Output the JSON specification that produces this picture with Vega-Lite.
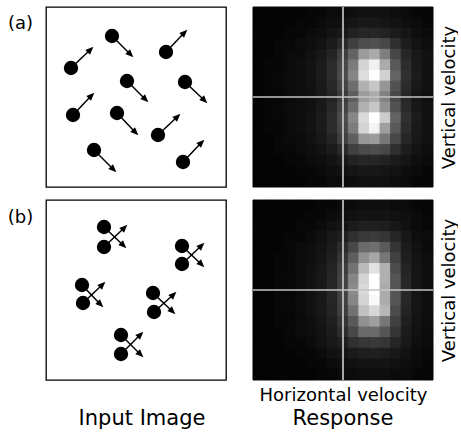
{
"$schema":"https://vega.github.io/schema/vega-lite/v6.json",
"padding":{"left":6,"top":6,"right":0,"bottom":0},
"background":"white",
"config":{"view":{"stroke":null},"font":"DejaVu Sans","axis":{"grid":false,"domain":false,"ticks":false,"labels":false,"titleFontWeight":"normal","titleColor":"black"},"title":{"color":"black","fontWeight":"normal"}},
"datasets":{
"dotsA":[
{"x":25,"y":61,"x2":44,"y2":43,"d":"ur"},
{"x":66,"y":29,"x2":84,"y2":47,"d":"dr"},
{"x":120,"y":45,"x2":138,"y2":26,"d":"ur"},
{"x":81,"y":74,"x2":99,"y2":92,"d":"dr"},
{"x":139,"y":75,"x2":158,"y2":93,"d":"dr"},
{"x":27,"y":108,"x2":45,"y2":89,"d":"ur"},
{"x":71,"y":106,"x2":89,"y2":125,"d":"dr"},
{"x":112,"y":128,"x2":131,"y2":110,"d":"ur"},
{"x":48,"y":143,"x2":67,"y2":162,"d":"dr"},
{"x":137,"y":155,"x2":155,"y2":136,"d":"ur"}
],
"dotsB":[
{"x":58,"y":27,"x2":77,"y2":45,"d":"dr"},
{"x":58,"y":47,"x2":78,"y2":28,"d":"ur"},
{"x":136,"y":46,"x2":155,"y2":64,"d":"dr"},
{"x":136,"y":64,"x2":155,"y2":46,"d":"ur"},
{"x":36,"y":85,"x2":54,"y2":104,"d":"dr"},
{"x":37,"y":103,"x2":56,"y2":85,"d":"ur"},
{"x":107,"y":93,"x2":126,"y2":111,"d":"dr"},
{"x":108,"y":112,"x2":127,"y2":95,"d":"ur"},
{"x":75,"y":135,"x2":94,"y2":154,"d":"dr"},
{"x":75,"y":154,"x2":94,"y2":135,"d":"ur"}
],
"A":[
{"r":0,"c":0,"v":0.01},{"r":0,"c":1,"v":0.01},{"r":0,"c":2,"v":0.01},{"r":0,"c":3,"v":0.01},{"r":0,"c":4,"v":0.01},{"r":0,"c":5,"v":0.02},{"r":0,"c":6,"v":0.02},{"r":0,"c":7,"v":0.03},{"r":0,"c":8,"v":0.03},{"r":0,"c":9,"v":0.04},{"r":0,"c":10,"v":0.05},{"r":0,"c":11,"v":0.05},{"r":0,"c":12,"v":0.05},{"r":0,"c":13,"v":0.04},{"r":0,"c":14,"v":0.03},{"r":0,"c":15,"v":0.02},{"r":0,"c":16,"v":0.02},
{"r":1,"c":0,"v":0.01},{"r":1,"c":1,"v":0.01},{"r":1,"c":2,"v":0.01},{"r":1,"c":3,"v":0.01},{"r":1,"c":4,"v":0.02},{"r":1,"c":5,"v":0.02},{"r":1,"c":6,"v":0.03},{"r":1,"c":7,"v":0.04},{"r":1,"c":8,"v":0.05},{"r":1,"c":9,"v":0.07},{"r":1,"c":10,"v":0.08},{"r":1,"c":11,"v":0.08},{"r":1,"c":12,"v":0.07},{"r":1,"c":13,"v":0.06},{"r":1,"c":14,"v":0.04},{"r":1,"c":15,"v":0.03},{"r":1,"c":16,"v":0.02},
{"r":2,"c":0,"v":0.01},{"r":2,"c":1,"v":0.01},{"r":2,"c":2,"v":0.01},{"r":2,"c":3,"v":0.02},{"r":2,"c":4,"v":0.02},{"r":2,"c":5,"v":0.03},{"r":2,"c":6,"v":0.04},{"r":2,"c":7,"v":0.06},{"r":2,"c":8,"v":0.09},{"r":2,"c":9,"v":0.13},{"r":2,"c":10,"v":0.15},{"r":2,"c":11,"v":0.15},{"r":2,"c":12,"v":0.13},{"r":2,"c":13,"v":0.1},{"r":2,"c":14,"v":0.07},{"r":2,"c":15,"v":0.04},{"r":2,"c":16,"v":0.03},
{"r":3,"c":0,"v":0.01},{"r":3,"c":1,"v":0.01},{"r":3,"c":2,"v":0.02},{"r":3,"c":3,"v":0.02},{"r":3,"c":4,"v":0.03},{"r":3,"c":5,"v":0.04},{"r":3,"c":6,"v":0.06},{"r":3,"c":7,"v":0.1},{"r":3,"c":8,"v":0.17},{"r":3,"c":9,"v":0.27},{"r":3,"c":10,"v":0.33},{"r":3,"c":11,"v":0.34},{"r":3,"c":12,"v":0.3},{"r":3,"c":13,"v":0.2},{"r":3,"c":14,"v":0.11},{"r":3,"c":15,"v":0.06},{"r":3,"c":16,"v":0.04},
{"r":4,"c":0,"v":0.01},{"r":4,"c":1,"v":0.01},{"r":4,"c":2,"v":0.02},{"r":4,"c":3,"v":0.03},{"r":4,"c":4,"v":0.03},{"r":4,"c":5,"v":0.05},{"r":4,"c":6,"v":0.08},{"r":4,"c":7,"v":0.14},{"r":4,"c":8,"v":0.26},{"r":4,"c":9,"v":0.42},{"r":4,"c":10,"v":0.64},{"r":4,"c":11,"v":0.7},{"r":4,"c":12,"v":0.53},{"r":4,"c":13,"v":0.3},{"r":4,"c":14,"v":0.15},{"r":4,"c":15,"v":0.08},{"r":4,"c":16,"v":0.05},
{"r":5,"c":0,"v":0.01},{"r":5,"c":1,"v":0.02},{"r":5,"c":2,"v":0.02},{"r":5,"c":3,"v":0.03},{"r":5,"c":4,"v":0.04},{"r":5,"c":5,"v":0.06},{"r":5,"c":6,"v":0.1},{"r":5,"c":7,"v":0.18},{"r":5,"c":8,"v":0.3},{"r":5,"c":9,"v":0.52},{"r":5,"c":10,"v":0.85},{"r":5,"c":11,"v":0.95},{"r":5,"c":12,"v":0.7},{"r":5,"c":13,"v":0.38},{"r":5,"c":14,"v":0.18},{"r":5,"c":15,"v":0.09},{"r":5,"c":16,"v":0.05},
{"r":6,"c":0,"v":0.01},{"r":6,"c":1,"v":0.02},{"r":6,"c":2,"v":0.02},{"r":6,"c":3,"v":0.03},{"r":6,"c":4,"v":0.04},{"r":6,"c":5,"v":0.06},{"r":6,"c":6,"v":0.1},{"r":6,"c":7,"v":0.18},{"r":6,"c":8,"v":0.32},{"r":6,"c":9,"v":0.56},{"r":6,"c":10,"v":0.88},{"r":6,"c":11,"v":1.0},{"r":6,"c":12,"v":0.84},{"r":6,"c":13,"v":0.42},{"r":6,"c":14,"v":0.2},{"r":6,"c":15,"v":0.1},{"r":6,"c":16,"v":0.05},
{"r":7,"c":0,"v":0.01},{"r":7,"c":1,"v":0.02},{"r":7,"c":2,"v":0.02},{"r":7,"c":3,"v":0.03},{"r":7,"c":4,"v":0.04},{"r":7,"c":5,"v":0.05},{"r":7,"c":6,"v":0.09},{"r":7,"c":7,"v":0.16},{"r":7,"c":8,"v":0.28},{"r":7,"c":9,"v":0.46},{"r":7,"c":10,"v":0.72},{"r":7,"c":11,"v":0.8},{"r":7,"c":12,"v":0.62},{"r":7,"c":13,"v":0.35},{"r":7,"c":14,"v":0.17},{"r":7,"c":15,"v":0.08},{"r":7,"c":16,"v":0.05},
{"r":8,"c":0,"v":0.01},{"r":8,"c":1,"v":0.02},{"r":8,"c":2,"v":0.02},{"r":8,"c":3,"v":0.03},{"r":8,"c":4,"v":0.04},{"r":8,"c":5,"v":0.05},{"r":8,"c":6,"v":0.08},{"r":8,"c":7,"v":0.14},{"r":8,"c":8,"v":0.25},{"r":8,"c":9,"v":0.4},{"r":8,"c":10,"v":0.64},{"r":8,"c":11,"v":0.7},{"r":8,"c":12,"v":0.54},{"r":8,"c":13,"v":0.3},{"r":8,"c":14,"v":0.15},{"r":8,"c":15,"v":0.07},{"r":8,"c":16,"v":0.04},
{"r":9,"c":0,"v":0.01},{"r":9,"c":1,"v":0.02},{"r":9,"c":2,"v":0.02},{"r":9,"c":3,"v":0.03},{"r":9,"c":4,"v":0.04},{"r":9,"c":5,"v":0.05},{"r":9,"c":6,"v":0.09},{"r":9,"c":7,"v":0.16},{"r":9,"c":8,"v":0.28},{"r":9,"c":9,"v":0.46},{"r":9,"c":10,"v":0.72},{"r":9,"c":11,"v":0.8},{"r":9,"c":12,"v":0.6},{"r":9,"c":13,"v":0.35},{"r":9,"c":14,"v":0.17},{"r":9,"c":15,"v":0.08},{"r":9,"c":16,"v":0.05},
{"r":10,"c":0,"v":0.01},{"r":10,"c":1,"v":0.02},{"r":10,"c":2,"v":0.02},{"r":10,"c":3,"v":0.03},{"r":10,"c":4,"v":0.04},{"r":10,"c":5,"v":0.06},{"r":10,"c":6,"v":0.1},{"r":10,"c":7,"v":0.18},{"r":10,"c":8,"v":0.32},{"r":10,"c":9,"v":0.56},{"r":10,"c":10,"v":0.87},{"r":10,"c":11,"v":1.0},{"r":10,"c":12,"v":0.82},{"r":10,"c":13,"v":0.42},{"r":10,"c":14,"v":0.2},{"r":10,"c":15,"v":0.1},{"r":10,"c":16,"v":0.05},
{"r":11,"c":0,"v":0.01},{"r":11,"c":1,"v":0.02},{"r":11,"c":2,"v":0.02},{"r":11,"c":3,"v":0.03},{"r":11,"c":4,"v":0.04},{"r":11,"c":5,"v":0.06},{"r":11,"c":6,"v":0.1},{"r":11,"c":7,"v":0.18},{"r":11,"c":8,"v":0.3},{"r":11,"c":9,"v":0.52},{"r":11,"c":10,"v":0.85},{"r":11,"c":11,"v":0.96},{"r":11,"c":12,"v":0.65},{"r":11,"c":13,"v":0.38},{"r":11,"c":14,"v":0.18},{"r":11,"c":15,"v":0.09},{"r":11,"c":16,"v":0.05},
{"r":12,"c":0,"v":0.01},{"r":12,"c":1,"v":0.01},{"r":12,"c":2,"v":0.02},{"r":12,"c":3,"v":0.03},{"r":12,"c":4,"v":0.03},{"r":12,"c":5,"v":0.05},{"r":12,"c":6,"v":0.08},{"r":12,"c":7,"v":0.14},{"r":12,"c":8,"v":0.26},{"r":12,"c":9,"v":0.4},{"r":12,"c":10,"v":0.62},{"r":12,"c":11,"v":0.64},{"r":12,"c":12,"v":0.5},{"r":12,"c":13,"v":0.3},{"r":12,"c":14,"v":0.15},{"r":12,"c":15,"v":0.08},{"r":12,"c":16,"v":0.05},
{"r":13,"c":0,"v":0.01},{"r":13,"c":1,"v":0.01},{"r":13,"c":2,"v":0.02},{"r":13,"c":3,"v":0.02},{"r":13,"c":4,"v":0.03},{"r":13,"c":5,"v":0.04},{"r":13,"c":6,"v":0.06},{"r":13,"c":7,"v":0.1},{"r":13,"c":8,"v":0.17},{"r":13,"c":9,"v":0.27},{"r":13,"c":10,"v":0.32},{"r":13,"c":11,"v":0.33},{"r":13,"c":12,"v":0.3},{"r":13,"c":13,"v":0.2},{"r":13,"c":14,"v":0.11},{"r":13,"c":15,"v":0.06},{"r":13,"c":16,"v":0.04},
{"r":14,"c":0,"v":0.01},{"r":14,"c":1,"v":0.01},{"r":14,"c":2,"v":0.01},{"r":14,"c":3,"v":0.02},{"r":14,"c":4,"v":0.02},{"r":14,"c":5,"v":0.03},{"r":14,"c":6,"v":0.04},{"r":14,"c":7,"v":0.06},{"r":14,"c":8,"v":0.09},{"r":14,"c":9,"v":0.13},{"r":14,"c":10,"v":0.15},{"r":14,"c":11,"v":0.15},{"r":14,"c":12,"v":0.13},{"r":14,"c":13,"v":0.1},{"r":14,"c":14,"v":0.07},{"r":14,"c":15,"v":0.04},{"r":14,"c":16,"v":0.03},
{"r":15,"c":0,"v":0.01},{"r":15,"c":1,"v":0.01},{"r":15,"c":2,"v":0.01},{"r":15,"c":3,"v":0.01},{"r":15,"c":4,"v":0.02},{"r":15,"c":5,"v":0.02},{"r":15,"c":6,"v":0.03},{"r":15,"c":7,"v":0.04},{"r":15,"c":8,"v":0.05},{"r":15,"c":9,"v":0.07},{"r":15,"c":10,"v":0.08},{"r":15,"c":11,"v":0.08},{"r":15,"c":12,"v":0.07},{"r":15,"c":13,"v":0.06},{"r":15,"c":14,"v":0.04},{"r":15,"c":15,"v":0.03},{"r":15,"c":16,"v":0.02},
{"r":16,"c":0,"v":0.01},{"r":16,"c":1,"v":0.01},{"r":16,"c":2,"v":0.01},{"r":16,"c":3,"v":0.01},{"r":16,"c":4,"v":0.01},{"r":16,"c":5,"v":0.02},{"r":16,"c":6,"v":0.02},{"r":16,"c":7,"v":0.03},{"r":16,"c":8,"v":0.03},{"r":16,"c":9,"v":0.04},{"r":16,"c":10,"v":0.05},{"r":16,"c":11,"v":0.05},{"r":16,"c":12,"v":0.05},{"r":16,"c":13,"v":0.04},{"r":16,"c":14,"v":0.03},{"r":16,"c":15,"v":0.02},{"r":16,"c":16,"v":0.02}
],
"B":[
{"r":0,"c":0,"v":0.01},{"r":0,"c":1,"v":0.01},{"r":0,"c":2,"v":0.01},{"r":0,"c":3,"v":0.01},{"r":0,"c":4,"v":0.01},{"r":0,"c":5,"v":0.01},{"r":0,"c":6,"v":0.02},{"r":0,"c":7,"v":0.02},{"r":0,"c":8,"v":0.03},{"r":0,"c":9,"v":0.03},{"r":0,"c":10,"v":0.04},{"r":0,"c":11,"v":0.04},{"r":0,"c":12,"v":0.04},{"r":0,"c":13,"v":0.03},{"r":0,"c":14,"v":0.03},{"r":0,"c":15,"v":0.02},{"r":0,"c":16,"v":0.02},
{"r":1,"c":0,"v":0.01},{"r":1,"c":1,"v":0.01},{"r":1,"c":2,"v":0.01},{"r":1,"c":3,"v":0.01},{"r":1,"c":4,"v":0.01},{"r":1,"c":5,"v":0.02},{"r":1,"c":6,"v":0.02},{"r":1,"c":7,"v":0.03},{"r":1,"c":8,"v":0.04},{"r":1,"c":9,"v":0.05},{"r":1,"c":10,"v":0.06},{"r":1,"c":11,"v":0.06},{"r":1,"c":12,"v":0.06},{"r":1,"c":13,"v":0.05},{"r":1,"c":14,"v":0.04},{"r":1,"c":15,"v":0.03},{"r":1,"c":16,"v":0.02},
{"r":2,"c":0,"v":0.01},{"r":2,"c":1,"v":0.01},{"r":2,"c":2,"v":0.01},{"r":2,"c":3,"v":0.01},{"r":2,"c":4,"v":0.02},{"r":2,"c":5,"v":0.02},{"r":2,"c":6,"v":0.03},{"r":2,"c":7,"v":0.05},{"r":2,"c":8,"v":0.07},{"r":2,"c":9,"v":0.1},{"r":2,"c":10,"v":0.12},{"r":2,"c":11,"v":0.12},{"r":2,"c":12,"v":0.11},{"r":2,"c":13,"v":0.08},{"r":2,"c":14,"v":0.05},{"r":2,"c":15,"v":0.03},{"r":2,"c":16,"v":0.02},
{"r":3,"c":0,"v":0.01},{"r":3,"c":1,"v":0.01},{"r":3,"c":2,"v":0.01},{"r":3,"c":3,"v":0.02},{"r":3,"c":4,"v":0.02},{"r":3,"c":5,"v":0.03},{"r":3,"c":6,"v":0.05},{"r":3,"c":7,"v":0.08},{"r":3,"c":8,"v":0.12},{"r":3,"c":9,"v":0.2},{"r":3,"c":10,"v":0.24},{"r":3,"c":11,"v":0.25},{"r":3,"c":12,"v":0.22},{"r":3,"c":13,"v":0.15},{"r":3,"c":14,"v":0.08},{"r":3,"c":15,"v":0.04},{"r":3,"c":16,"v":0.03},
{"r":4,"c":0,"v":0.01},{"r":4,"c":1,"v":0.01},{"r":4,"c":2,"v":0.01},{"r":4,"c":3,"v":0.02},{"r":4,"c":4,"v":0.03},{"r":4,"c":5,"v":0.04},{"r":4,"c":6,"v":0.06},{"r":4,"c":7,"v":0.1},{"r":4,"c":8,"v":0.18},{"r":4,"c":9,"v":0.3},{"r":4,"c":10,"v":0.45},{"r":4,"c":11,"v":0.47},{"r":4,"c":12,"v":0.38},{"r":4,"c":13,"v":0.22},{"r":4,"c":14,"v":0.1},{"r":4,"c":15,"v":0.05},{"r":4,"c":16,"v":0.03},
{"r":5,"c":0,"v":0.01},{"r":5,"c":1,"v":0.01},{"r":5,"c":2,"v":0.02},{"r":5,"c":3,"v":0.02},{"r":5,"c":4,"v":0.03},{"r":5,"c":5,"v":0.04},{"r":5,"c":6,"v":0.07},{"r":5,"c":7,"v":0.12},{"r":5,"c":8,"v":0.22},{"r":5,"c":9,"v":0.4},{"r":5,"c":10,"v":0.6},{"r":5,"c":11,"v":0.68},{"r":5,"c":12,"v":0.5},{"r":5,"c":13,"v":0.27},{"r":5,"c":14,"v":0.12},{"r":5,"c":15,"v":0.06},{"r":5,"c":16,"v":0.04},
{"r":6,"c":0,"v":0.01},{"r":6,"c":1,"v":0.01},{"r":6,"c":2,"v":0.02},{"r":6,"c":3,"v":0.02},{"r":6,"c":4,"v":0.03},{"r":6,"c":5,"v":0.05},{"r":6,"c":6,"v":0.08},{"r":6,"c":7,"v":0.14},{"r":6,"c":8,"v":0.26},{"r":6,"c":9,"v":0.48},{"r":6,"c":10,"v":0.76},{"r":6,"c":11,"v":0.9},{"r":6,"c":12,"v":0.72},{"r":6,"c":13,"v":0.32},{"r":6,"c":14,"v":0.14},{"r":6,"c":15,"v":0.07},{"r":6,"c":16,"v":0.04},
{"r":7,"c":0,"v":0.01},{"r":7,"c":1,"v":0.01},{"r":7,"c":2,"v":0.02},{"r":7,"c":3,"v":0.02},{"r":7,"c":4,"v":0.03},{"r":7,"c":5,"v":0.05},{"r":7,"c":6,"v":0.08},{"r":7,"c":7,"v":0.15},{"r":7,"c":8,"v":0.28},{"r":7,"c":9,"v":0.56},{"r":7,"c":10,"v":0.85},{"r":7,"c":11,"v":1.0},{"r":7,"c":12,"v":0.72},{"r":7,"c":13,"v":0.36},{"r":7,"c":14,"v":0.15},{"r":7,"c":15,"v":0.07},{"r":7,"c":16,"v":0.04},
{"r":8,"c":0,"v":0.01},{"r":8,"c":1,"v":0.01},{"r":8,"c":2,"v":0.02},{"r":8,"c":3,"v":0.02},{"r":8,"c":4,"v":0.03},{"r":8,"c":5,"v":0.05},{"r":8,"c":6,"v":0.08},{"r":8,"c":7,"v":0.15},{"r":8,"c":8,"v":0.28},{"r":8,"c":9,"v":0.58},{"r":8,"c":10,"v":0.87},{"r":8,"c":11,"v":1.0},{"r":8,"c":12,"v":0.7},{"r":8,"c":13,"v":0.36},{"r":8,"c":14,"v":0.15},{"r":8,"c":15,"v":0.07},{"r":8,"c":16,"v":0.04},
{"r":9,"c":0,"v":0.01},{"r":9,"c":1,"v":0.01},{"r":9,"c":2,"v":0.02},{"r":9,"c":3,"v":0.02},{"r":9,"c":4,"v":0.03},{"r":9,"c":5,"v":0.05},{"r":9,"c":6,"v":0.08},{"r":9,"c":7,"v":0.15},{"r":9,"c":8,"v":0.28},{"r":9,"c":9,"v":0.56},{"r":9,"c":10,"v":0.85},{"r":9,"c":11,"v":0.98},{"r":9,"c":12,"v":0.7},{"r":9,"c":13,"v":0.36},{"r":9,"c":14,"v":0.15},{"r":9,"c":15,"v":0.07},{"r":9,"c":16,"v":0.04},
{"r":10,"c":0,"v":0.01},{"r":10,"c":1,"v":0.01},{"r":10,"c":2,"v":0.02},{"r":10,"c":3,"v":0.02},{"r":10,"c":4,"v":0.03},{"r":10,"c":5,"v":0.05},{"r":10,"c":6,"v":0.08},{"r":10,"c":7,"v":0.14},{"r":10,"c":8,"v":0.26},{"r":10,"c":9,"v":0.48},{"r":10,"c":10,"v":0.78},{"r":10,"c":11,"v":0.86},{"r":10,"c":12,"v":0.74},{"r":10,"c":13,"v":0.32},{"r":10,"c":14,"v":0.14},{"r":10,"c":15,"v":0.07},{"r":10,"c":16,"v":0.04},
{"r":11,"c":0,"v":0.01},{"r":11,"c":1,"v":0.01},{"r":11,"c":2,"v":0.02},{"r":11,"c":3,"v":0.02},{"r":11,"c":4,"v":0.03},{"r":11,"c":5,"v":0.04},{"r":11,"c":6,"v":0.07},{"r":11,"c":7,"v":0.12},{"r":11,"c":8,"v":0.22},{"r":11,"c":9,"v":0.38},{"r":11,"c":10,"v":0.6},{"r":11,"c":11,"v":0.65},{"r":11,"c":12,"v":0.5},{"r":11,"c":13,"v":0.27},{"r":11,"c":14,"v":0.12},{"r":11,"c":15,"v":0.06},{"r":11,"c":16,"v":0.04},
{"r":12,"c":0,"v":0.01},{"r":12,"c":1,"v":0.01},{"r":12,"c":2,"v":0.01},{"r":12,"c":3,"v":0.02},{"r":12,"c":4,"v":0.03},{"r":12,"c":5,"v":0.04},{"r":12,"c":6,"v":0.06},{"r":12,"c":7,"v":0.1},{"r":12,"c":8,"v":0.18},{"r":12,"c":9,"v":0.3},{"r":12,"c":10,"v":0.45},{"r":12,"c":11,"v":0.45},{"r":12,"c":12,"v":0.36},{"r":12,"c":13,"v":0.22},{"r":12,"c":14,"v":0.1},{"r":12,"c":15,"v":0.05},{"r":12,"c":16,"v":0.03},
{"r":13,"c":0,"v":0.01},{"r":13,"c":1,"v":0.01},{"r":13,"c":2,"v":0.01},{"r":13,"c":3,"v":0.02},{"r":13,"c":4,"v":0.02},{"r":13,"c":5,"v":0.03},{"r":13,"c":6,"v":0.05},{"r":13,"c":7,"v":0.08},{"r":13,"c":8,"v":0.12},{"r":13,"c":9,"v":0.2},{"r":13,"c":10,"v":0.23},{"r":13,"c":11,"v":0.24},{"r":13,"c":12,"v":0.22},{"r":13,"c":13,"v":0.15},{"r":13,"c":14,"v":0.08},{"r":13,"c":15,"v":0.04},{"r":13,"c":16,"v":0.03},
{"r":14,"c":0,"v":0.01},{"r":14,"c":1,"v":0.01},{"r":14,"c":2,"v":0.01},{"r":14,"c":3,"v":0.01},{"r":14,"c":4,"v":0.02},{"r":14,"c":5,"v":0.02},{"r":14,"c":6,"v":0.03},{"r":14,"c":7,"v":0.05},{"r":14,"c":8,"v":0.07},{"r":14,"c":9,"v":0.1},{"r":14,"c":10,"v":0.12},{"r":14,"c":11,"v":0.12},{"r":14,"c":12,"v":0.11},{"r":14,"c":13,"v":0.08},{"r":14,"c":14,"v":0.05},{"r":14,"c":15,"v":0.03},{"r":14,"c":16,"v":0.02},
{"r":15,"c":0,"v":0.01},{"r":15,"c":1,"v":0.01},{"r":15,"c":2,"v":0.01},{"r":15,"c":3,"v":0.01},{"r":15,"c":4,"v":0.01},{"r":15,"c":5,"v":0.02},{"r":15,"c":6,"v":0.02},{"r":15,"c":7,"v":0.03},{"r":15,"c":8,"v":0.04},{"r":15,"c":9,"v":0.05},{"r":15,"c":10,"v":0.06},{"r":15,"c":11,"v":0.06},{"r":15,"c":12,"v":0.06},{"r":15,"c":13,"v":0.05},{"r":15,"c":14,"v":0.04},{"r":15,"c":15,"v":0.03},{"r":15,"c":16,"v":0.02},
{"r":16,"c":0,"v":0.01},{"r":16,"c":1,"v":0.01},{"r":16,"c":2,"v":0.01},{"r":16,"c":3,"v":0.01},{"r":16,"c":4,"v":0.01},{"r":16,"c":5,"v":0.01},{"r":16,"c":6,"v":0.02},{"r":16,"c":7,"v":0.02},{"r":16,"c":8,"v":0.03},{"r":16,"c":9,"v":0.03},{"r":16,"c":10,"v":0.04},{"r":16,"c":11,"v":0.04},{"r":16,"c":12,"v":0.04},{"r":16,"c":13,"v":0.03},{"r":16,"c":14,"v":0.03},{"r":16,"c":15,"v":0.02},{"r":16,"c":16,"v":0.02}
]
},
"spacing":11,
"vconcat":[
{"hconcat":[
{"width":180,"height":180,"view":{"stroke":"black","strokeWidth":1.3},"data":{"name":"dotsA"},
"resolve":{"axis":{"x":"independent","y":"independent"}},
"layer":[
{"mark":{"type":"rule","stroke":"black","strokeWidth":1.5},
"encoding":{"x":{"field":"x","type":"quantitative","scale":{"domain":[0,180],"nice":false},"axis":null},
"y":{"field":"y","type":"quantitative","scale":{"domain":[0,180],"nice":false,"reverse":true},"axis":{"title":"(a)","titleAngle":0,"titleX":-26,"titleY":16,"titleAlign":"center","titleBaseline":"middle","titleFontSize":18}},
"x2":{"field":"x2"},"y2":{"field":"y2"}}},
{"mark":{"type":"point","filled":true,"opacity":1,"color":"black","size":205},
"encoding":{"x":{"field":"x","type":"quantitative","scale":{"domain":[0,180],"nice":false},"axis":null},"y":{"field":"y","type":"quantitative","scale":{"domain":[0,180],"nice":false,"reverse":true},"axis":null}}},
{"mark":{"type":"point","filled":true,"opacity":1,"color":"black","size":90,"shape":"M0,-1L0.7,0.7L-0.7,0.7Z"},
"encoding":{"x":{"field":"x2","type":"quantitative","scale":{"domain":[0,180],"nice":false},"axis":null},"y":{"field":"y2","type":"quantitative","scale":{"domain":[0,180],"nice":false,"reverse":true},"axis":null},
"angle":{"field":"d","type":"nominal","scale":{"domain":["ur","dr"],"range":[45,135]},"legend":null}}}
]},
{"width":180,"height":180,
"resolve":{"axis":{"x":"independent","y":"independent"}},
"layer":[
{"data":{"name":"A"},"mark":{"type":"rect","strokeWidth":1},
"encoding":{"x":{"field":"c","type":"ordinal","scale":{"paddingInner":0,"paddingOuter":0},"axis":null},
"y":{"field":"r","type":"ordinal","scale":{"paddingInner":0,"paddingOuter":0},"axis":{"orient":"right","title":"Vertical velocity","titleAngle":270,"titleBaseline":"top","titlePadding":7,"titleFontSize":18}},
"color":{"field":"v","type":"quantitative","scale":{"domain":[0,1],"range":["#000000","#ffffff"]},"legend":null},
"stroke":{"field":"v","type":"quantitative","scale":{"domain":[0,1],"range":["#000000","#ffffff"]},"legend":null}}},
{"data":{"values":[{"c":8}]},"mark":{"type":"rule","color":"#c4c4c4","strokeWidth":1.7},"encoding":{"x":{"field":"c","type":"ordinal","axis":null}}},
{"data":{"values":[{"r":8}]},"mark":{"type":"rule","color":"#c4c4c4","strokeWidth":1.7},"encoding":{"y":{"field":"r","type":"ordinal","axis":null}}}
]}
],"spacing":25},
{"hconcat":[
{"width":180,"height":180,"view":{"stroke":"black","strokeWidth":1.3},"data":{"name":"dotsB"},
"resolve":{"axis":{"x":"independent","y":"independent"}},
"title":{"text":"Input Image","orient":"bottom","fontSize":21,"offset":28,"anchor":"middle","frame":"group","dx":6},
"layer":[
{"mark":{"type":"rule","stroke":"black","strokeWidth":1.5},
"encoding":{"x":{"field":"x","type":"quantitative","scale":{"domain":[0,180],"nice":false},"axis":null},
"y":{"field":"y","type":"quantitative","scale":{"domain":[0,180],"nice":false,"reverse":true},"axis":{"title":"(b)","titleAngle":0,"titleX":-26,"titleY":17,"titleAlign":"center","titleBaseline":"middle","titleFontSize":18}},
"x2":{"field":"x2"},"y2":{"field":"y2"}}},
{"mark":{"type":"point","filled":true,"opacity":1,"color":"black","size":205},
"encoding":{"x":{"field":"x","type":"quantitative","scale":{"domain":[0,180],"nice":false},"axis":null},"y":{"field":"y","type":"quantitative","scale":{"domain":[0,180],"nice":false,"reverse":true},"axis":null}}},
{"mark":{"type":"point","filled":true,"opacity":1,"color":"black","size":90,"shape":"M0,-1L0.7,0.7L-0.7,0.7Z"},
"encoding":{"x":{"field":"x2","type":"quantitative","scale":{"domain":[0,180],"nice":false},"axis":null},"y":{"field":"y2","type":"quantitative","scale":{"domain":[0,180],"nice":false,"reverse":true},"axis":null},
"angle":{"field":"d","type":"nominal","scale":{"domain":["ur","dr"],"range":[45,135]},"legend":null}}}
]},
{"width":180,"height":180,
"resolve":{"axis":{"x":"independent","y":"independent"}},
"title":{"text":"Response","orient":"bottom","fontSize":21,"offset":4,"anchor":"middle","frame":"group"},
"layer":[
{"data":{"name":"B"},"mark":{"type":"rect","strokeWidth":1},
"encoding":{"x":{"field":"c","type":"ordinal","scale":{"paddingInner":0,"paddingOuter":0},"axis":{"title":"Horizontal velocity","titlePadding":6,"titleFontSize":18}},
"y":{"field":"r","type":"ordinal","scale":{"paddingInner":0,"paddingOuter":0},"axis":{"orient":"right","title":"Vertical velocity","titleAngle":270,"titleBaseline":"top","titlePadding":7,"titleFontSize":18}},
"color":{"field":"v","type":"quantitative","scale":{"domain":[0,1],"range":["#000000","#ffffff"]},"legend":null},
"stroke":{"field":"v","type":"quantitative","scale":{"domain":[0,1],"range":["#000000","#ffffff"]},"legend":null}}},
{"data":{"values":[{"c":8}]},"mark":{"type":"rule","color":"#c4c4c4","strokeWidth":1.7},"encoding":{"x":{"field":"c","type":"ordinal","axis":null}}},
{"data":{"values":[{"r":8}]},"mark":{"type":"rule","color":"#c4c4c4","strokeWidth":1.7},"encoding":{"y":{"field":"r","type":"ordinal","axis":null}}}
]}
],"spacing":25}
]
}
